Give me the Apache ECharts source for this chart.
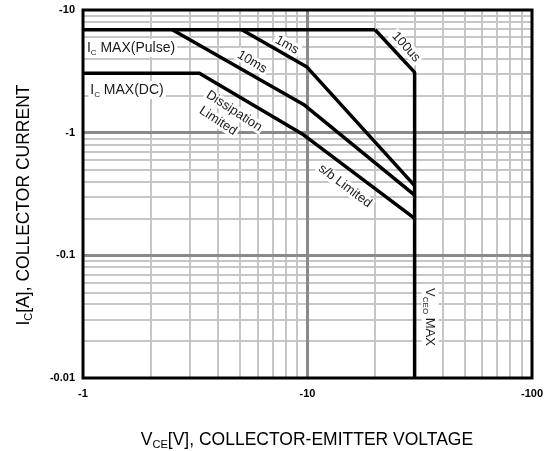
<!DOCTYPE html>
<html>
<head>
<meta charset="utf-8">
<script src="https://cdn.jsdelivr.net/npm/echarts@6/dist/echarts.min.js"></script>
<style>
html, body { margin: 0; padding: 0; background: #fff; }
#main { width: 556px; height: 451px; }
</style>
</head>
<body>
<div id="main"></div>
<script>
// safe operating area, points are [Vce, Ic] magnitudes (labels carry the minus sign)
var icPulse = [[1, 6.9], [20, 6.9]];
var curve100us = [[20, 6.9], [30, 3.1], [30, 0.01]];
var curve1ms = [[5.1, 6.9], [9.9, 3.45], [30, 0.37]];
var curve10ms = [[2.5, 6.9], [9.6, 1.7], [30, 0.31]];
var curveDC = [[1, 3.05], [3.3, 3.05], [9.6, 0.96], [30, 0.2]];

var xDecades = [1, 10, 100];
var yDecades = [0.01, 0.1, 1, 10];
var minorSteps = [2, 3, 4, 5, 6, 7, 8, 9];

var FONT = "'Liberation Sans', Arial, sans-serif";

function minorLines(decades, key) {
  var out = [];
  for (var i = 0; i < decades.length - 1; i++) {
    minorSteps.forEach(function (m) {
      var o = {};
      o[key] = +(decades[i] * m).toPrecision(3);
      out.push(o);
    });
  }
  return out;
}
function innerLines(decades, key) {
  return decades.slice(1, -1).map(function (v) {
    var o = {};
    o[key] = v;
    return o;
  });
}

var myChart = echarts.init(document.getElementById('main'));

var gridLeft = 83, gridTop = 10, gridW = 449, gridH = 368;

function curve(name, data) {
  return {
    name: name,
    type: 'line',
    data: data,
    showSymbol: false,
    silent: true,
    z: 8,
    lineStyle: { color: '#000', width: 3.5 },
    animation: false
  };
}

function gridLines(lines, color, width, z) {
  return {
    type: 'line',
    data: [],
    silent: true,
    z: z,
    markLine: {
      silent: true,
      z: z,
      symbol: ['none', 'none'],
      label: { show: false },
      animation: false,
      lineStyle: { color: color, width: width, type: 'solid' },
      data: lines
    }
  };
}

function rich(size) {
  return {
    n: { fontSize: size, lineHeight: size + 4, fontFamily: FONT, color: '#1a1a1a' },
    s: { fontSize: Math.round(size * 0.6), lineHeight: Math.round(size * 0.6), verticalAlign: 'bottom', fontFamily: FONT, color: '#1a1a1a' }
  };
}

// in-plot notes sit on a white box, under the curves but over the grid
function note(x, y, deg, text, size) {
  return {
    type: 'text',
    x: x,
    y: y,
    rotation: deg * Math.PI / 180,
    z: 6,
    style: {
      text: text,
      font: size + 'px ' + FONT,
      fill: '#1a1a1a',
      align: 'center',
      verticalAlign: 'middle',
      backgroundColor: '#fff',
      padding: [0, 2],
      rich: rich(size)
    }
  };
}

var option = {
  animation: false,
  grid: { left: gridLeft, top: gridTop, width: gridW, height: gridH },
  xAxis: {
    type: 'log',
    logBase: 10,
    min: 1,
    max: 100,
    axisLine: { show: false },
    axisTick: { show: false },
    splitLine: { show: false },
    axisLabel: {
      margin: 10,
      color: '#000',
      fontWeight: 'bold',
      fontSize: 11,
      fontFamily: FONT,
      formatter: function (v) { return '-' + v; }
    }
  },
  yAxis: {
    type: 'log',
    logBase: 10,
    min: 0.01,
    max: 10,
    axisLine: { show: false },
    axisTick: { show: false },
    splitLine: { show: false },
    axisLabel: {
      margin: 8,
      color: '#000',
      fontWeight: 'bold',
      fontSize: 11,
      fontFamily: FONT,
      formatter: function (v) { return '-' + v; }
    }
  },
  series: [
    gridLines(minorLines(xDecades, 'xAxis').concat(minorLines(yDecades, 'yAxis')), '#c6c6c6', 2, 3),
    gridLines(innerLines(xDecades, 'xAxis').concat(innerLines(yDecades, 'yAxis')), '#8a8a8a', 3, 4),
    curve('Ic MAX(Pulse)', icPulse),
    curve('100us', curve100us),
    curve('1ms', curve1ms),
    curve('10ms', curve10ms),
    curve('DC', curveDC)
  ],
  graphic: [
    {
      type: 'rect',
      z: 60,
      shape: { x: gridLeft, y: gridTop, width: gridW, height: gridH },
      style: { fill: 'none', stroke: '#000', lineWidth: 3 }
    },
    note(131, 48, 0, '{n|I}{s|C}{n| MAX(Pulse)}', 14),
    note(127, 90, 0, '{n|I}{s|C}{n| MAX(DC)}', 14),
    note(252, 62, -31, '10ms', 13),
    note(287, 45, -29, '1ms', 13),
    note(406, 47, -48, '100us', 13),
    note(234, 111, -33, 'Dissipation', 13),
    note(218, 121, -33, 'Limited', 13),
    note(345, 186, -37, 's/b Limited', 13),
    note(430, 317, -90, '{n|V}{s|CEO}{n| MAX}', 13),
    {
      type: 'text',
      x: 307,
      y: 440,
      style: {
        text: '{n|V}{s|CE}{n|[V], COLLECTOR-EMITTER VOLTAGE}',
        align: 'center',
        verticalAlign: 'middle',
        rich: rich(17.5)
      }
    },
    {
      type: 'text',
      x: 24,
      y: 205,
      rotation: Math.PI / 2,
      style: {
        text: '{n|I}{s|C}{n|[A], COLLECTOR CURRENT}',
        align: 'center',
        verticalAlign: 'middle',
        rich: rich(17.5)
      }
    }
  ]
};

myChart.setOption(option);
</script>
</body>
</html>
